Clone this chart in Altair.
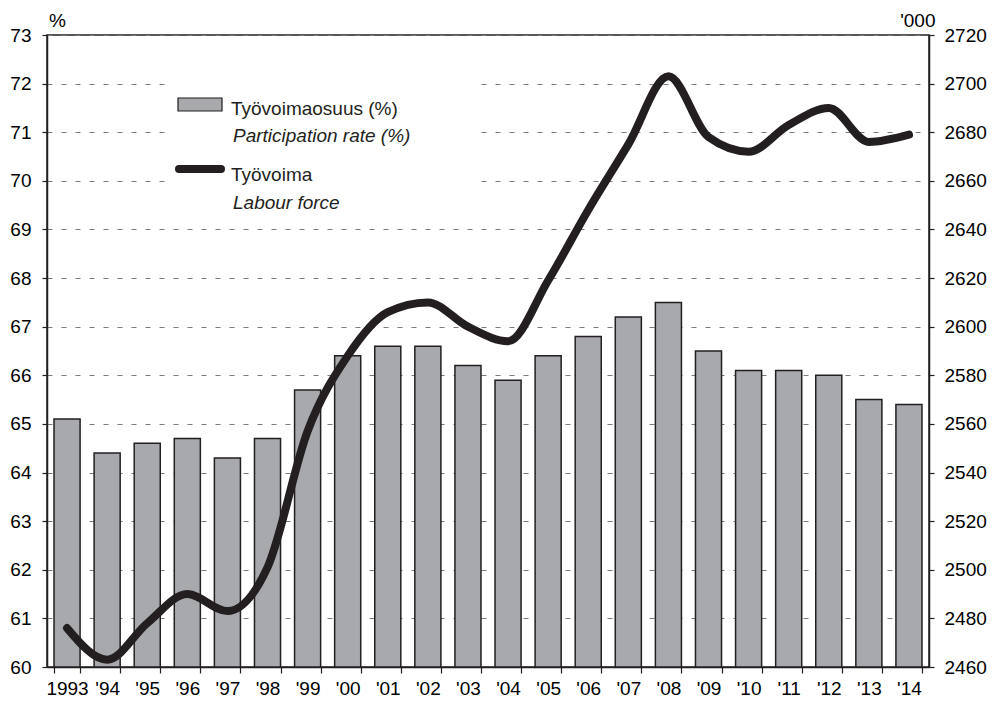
import altair as alt
import pandas as pd

years = ["1993", "'94", "'95", "'96", "'97", "'98", "'99", "'00", "'01", "'02", "'03",
         "'04", "'05", "'06", "'07", "'08", "'09", "'10", "'11", "'12", "'13", "'14"]
participation = [65.1, 64.4, 64.6, 64.7, 64.3, 64.7, 65.7, 66.4, 66.6, 66.6, 66.2,
                 65.9, 66.4, 66.8, 67.2, 67.5, 66.5, 66.1, 66.1, 66.0, 65.5, 65.4]
labour_force = [2476, 2463, 2478, 2490, 2483, 2501, 2557, 2588, 2606, 2610, 2600,
                2594, 2619, 2648, 2675, 2703, 2678, 2672, 2683, 2690, 2676, 2679]
left_ticks = list(range(60, 74))
right_ticks = list(range(2460, 2721, 20))
legend_texts = ["Työvoimaosuus (%)", "Participation rate (%)", "Työvoima", "Labour force"]

df = pd.DataFrame({"year": years, "rate": participation, "lf": labour_force})
one = pd.DataFrame({"k": [0]})

DARK = "#231f20"
AXF = "Liberation Sans, Arial, Helvetica"
REG = "Liberation Sans, Arial, Helvetica"
FS = 19

x_enc = alt.X("year:N", sort=years,
              scale=alt.Scale(paddingInner=0.35, paddingOuter=0.175),
              axis=alt.Axis(title=None, labelAngle=0, tickBand="extent", grid=False,
                            labelOverlap=False, labelFont=AXF, labelFontSize=FS,
                            labelColor="black", labelPadding=6, labelBaseline="top",
                            tickSize=6, tickColor=DARK, tickWidth=1.2,
                            domainColor=DARK, domainWidth=1.5))

bars = alt.Chart(df).mark_bar(fill="#a7a9ac", stroke=DARK, strokeWidth=1.5).encode(
    x=x_enc,
    y=alt.Y("rate:Q", scale=alt.Scale(domain=[60, 73], nice=False, zero=False),
            axis=alt.Axis(orient="left", values=left_ticks, grid=True,
                          gridDash=[5, 9], gridColor="#7a7a7a", gridWidth=1,
                          title="%", titleAngle=0, titleX=10, titleY=-9,
                          titleAlign="center", titleBaseline="alphabetic",
                          titleFont=AXF, titleFontSize=FS, titleFontWeight="normal",
                          titleColor="black",
                          labelFont=AXF, labelFontSize=FS, labelColor="black",
                          labelPadding=11, tickSize=5, tickColor=DARK, tickWidth=1.2,
                          domainColor=DARK, domainWidth=1.5)),
    y2=alt.datum(60),
)

line = alt.Chart(df).mark_line(interpolate="monotone", stroke=DARK, strokeWidth=8,
                               strokeCap="round", strokeJoin="round").encode(
    x=alt.X("year:N", sort=years),
    y=alt.Y("lf:Q", scale=alt.Scale(domain=[2460, 2720], nice=False, zero=False),
            axis=alt.Axis(orient="right", values=right_ticks, grid=False, format="d",
                          title="'000", titleAngle=0, titleX=6, titleY=-9,
                          titleAlign="right", titleBaseline="alphabetic",
                          titleFont=AXF, titleFontSize=FS, titleFontWeight="normal",
                          titleColor="black",
                          labelFont=AXF, labelFontSize=FS, labelColor="black",
                          labelPadding=10, tickSize=5, tickColor=DARK, tickWidth=1.2,
                          domainColor=DARK, domainWidth=1.5)),
)

legend_bg = alt.Chart(one).mark_rect(fill="white").encode(
    x=alt.value(118), x2=alt.value(433), y=alt.value(45), y2=alt.value(180))
legend_bar = alt.Chart(one).mark_rect(fill="#a7a9ac", stroke=DARK, strokeWidth=1.2).encode(
    x=alt.value(131), x2=alt.value(175), y=alt.value(63), y2=alt.value(76))
legend_line = alt.Chart(one).mark_rule(stroke=DARK, strokeWidth=8, strokeCap="round").encode(
    x=alt.value(132), x2=alt.value(174), y=alt.value(134))


def legend_text(txt, x, y, italic=False):
    return alt.Chart(one).mark_text(align="left", baseline="alphabetic", font=REG,
                                    fontSize=19, color=DARK,
                                    fontStyle="italic" if italic else "normal").encode(
        x=alt.value(x), y=alt.value(y), text=alt.value(txt))


t1 = legend_text(legend_texts[0], 184, 80)
t2 = legend_text(legend_texts[1], 186, 107, italic=True)
t3 = legend_text(legend_texts[2], 184, 146)
t4 = legend_text(legend_texts[3], 186, 174, italic=True)

chart = alt.layer(legend_bg, bars, line, legend_bar, legend_line, t1, t2, t3, t4).resolve_scale(
    y="independent"
).properties(
    width=882, height=632,
    autosize=alt.AutoSizeParams(type="none"),
    padding={"left": 39, "top": 27, "right": 58, "bottom": 31},
    background="white",
).configure_view(stroke=DARK, strokeWidth=1.5)

chart.save("out.html", embed_options={"renderer": "svg", "actions": False})
